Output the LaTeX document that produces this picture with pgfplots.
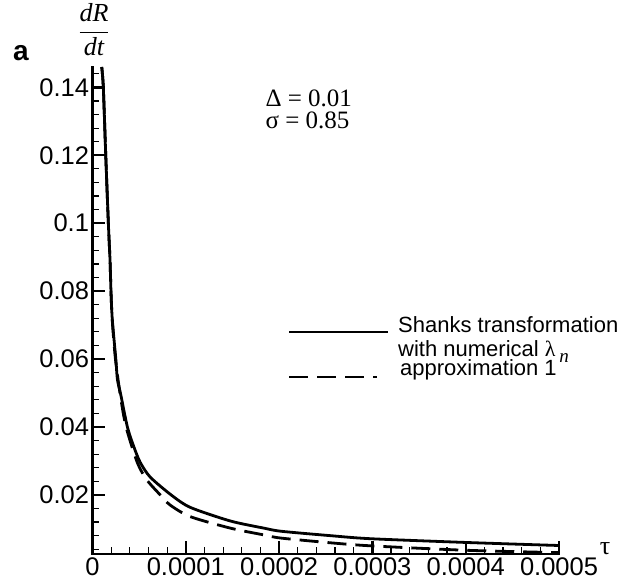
\documentclass[border=0pt]{standalone}
\usepackage{fontspec}
\setmainfont{Liberation Serif}
\newfontfamily\hv{Liberation Sans}
\usepackage{pgfplots}
\pgfplotsset{compat=1.18}

% dR/dt against tau, solid: Shanks transformation, dashed: approximation 1
\pgfplotstableread{
tau        v
0.0000099  0.146
0.0000116  0.140
0.0000142  0.120
0.0000170  0.100
0.0000188  0.089
0.0000198  0.080
0.0000212  0.0717
0.0000250  0.060
0.0000267  0.054
0.0000303  0.0495
0.0000374  0.040
0.0000440  0.0344
0.0000511  0.0296
0.0000620  0.0252
0.0000852  0.0198
0.0001050  0.0163
0.0001480  0.0123
0.0001840  0.0102
0.0002020  0.0093
0.0002550  0.0080
0.0002980  0.0071
0.0004000  0.0060
0.0005000  0.0051
}\shanks

\pgfplotstableread{
tau        v
0.0000099  0.146
0.0000116  0.140
0.0000142  0.120
0.0000170  0.100
0.0000188  0.089
0.0000198  0.080
0.0000211  0.0717
0.0000246  0.060
0.0000300  0.049
0.0000360  0.040
0.0000482  0.0294
0.0000583  0.0244
0.0000726  0.0200
0.0000833  0.0170
0.0001048  0.0136
0.0001480  0.0102
0.0001840  0.0082
0.0002016  0.0073
0.0002550  0.0059
0.0002984  0.0050
0.0004000  0.0037
0.0005000  0.0030
}\approxone

\tikzset{
  shanks line/.style={black, line width=2.8pt, line join=round},
  approx line/.style={black, line width=2.8pt, dash pattern=on 19pt off 9pt},
  key text/.style={anchor=base west, inner sep=0pt, font=\hv\fontsize{22}{25}\selectfont},
}

\begin{document}
\begin{tikzpicture}
\begin{axis}[
  scale only axis,
  width=466.5pt, height=487pt,
  xmin=0, xmax=0.0005,
  ymin=0.0026, ymax=0.146,
  axis lines=left,
  axis line style={-, line width=2.6pt, line cap=rect},
  tick align=inside,
  major tick length=13pt,
  minor tick length=7pt,
  major tick style={black, line width=2.4pt},
  minor tick style={black, line width=1.2pt},
  scaled x ticks=false, scaled y ticks=false,
  xtick={0,0.0001,0.0002,0.0003,0.0004,0.0005},
  xticklabels={0,0.0001,0.0002,0.0003,0.0004,0.0005},
  minor xtick={0.00002,0.00004,0.00006,0.00008,0.00012,0.00014,0.00016,0.00018,
    0.00022,0.00024,0.00026,0.00028,0.00032,0.00034,0.00036,0.00038,
    0.00042,0.00044,0.00046,0.00048},
  ytick={0.02,0.04,0.06,0.08,0.1,0.12,0.14},
  yticklabels={0.02,0.04,0.06,0.08,0.1,0.12,0.14},
  minor ytick={0.004,0.008,0.012,0.016,0.024,0.028,0.032,0.036,
    0.044,0.048,0.052,0.056,0.064,0.068,0.072,0.076,
    0.084,0.088,0.092,0.096,0.104,0.108,0.112,0.116,
    0.124,0.128,0.132,0.136,0.144},
  tick label style={font=\hv\fontsize{25.5}{28}\selectfont, black},
  /pgf/number format/assume math mode=true,
]
\addplot[shanks line, smooth, tension=0.45] table[x=tau, y=v] {\shanks};
\addplot[approx line, smooth, tension=0.45] table[x=tau, y=v] {\approxone};
\end{axis}

% key
\draw[shanks line] (196.5pt,222pt) -- (295.5pt,222pt);
\draw[approx line] (196.5pt,177pt) -- (284.5pt,177pt);
\node[key text] at (305.5pt,221pt) {Shanks transformation};
\node[key text] at (305.5pt,197pt) {with numerical {\rmfamily λ}\,\raisebox{-6pt}{\rmfamily\itshape\fontsize{19}{20}\selectfont n}};
\node[key text] at (307.5pt,178pt) {approximation 1};

% panel letter, ordinate label, parameters and abscissa label
\node[font=\hv\bfseries\fontsize{28}{30}\selectfont] at (-71.5pt,501pt) {a};
\node[font=\fontsize{26}{30}\selectfont] at (1.5pt,524pt)
  {$\displaystyle\frac{\textit{dR}}{\textit{dt}}$};
\node[anchor=base west, font=\fontsize{25}{28}\selectfont] at (169.5pt,447pt) {Δ = 0.01};
\node[anchor=base west, font=\fontsize{25}{28}\selectfont] at (169.5pt,425pt) {σ = 0.85};
\node[font=\fontsize{26}{28}\selectfont] at (512.5pt,5pt) {τ};

\path[use as bounding box] (-92.5pt,-32pt) rectangle (531.5pt,554pt);
\end{tikzpicture}
\end{document}
